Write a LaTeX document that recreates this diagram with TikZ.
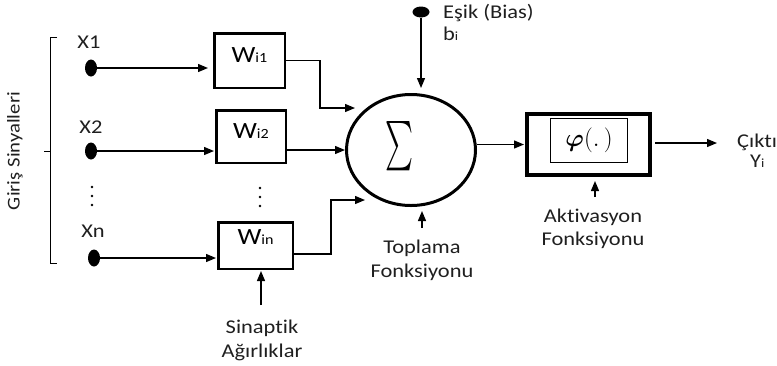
\documentclass[tikz,border=0pt]{standalone}
\usepackage{fontspec}
\setmainfont{Carlito}[FakeStretch=1.15, Ligatures={NoCommon}]
\usepackage{amsmath,bm}
\usetikzlibrary{arrows.meta,shapes.geometric}
\newcommand\wlab[1]{{\fontsize{23.3}{24}\selectfont W}{\fontsize{14}{14}\selectfont #1}}
\newcommand\sublab[2]{{\fontsize{19.5}{24}\selectfont #1}{\fontsize{12.5}{14}\selectfont #2}}
\tikzset{
  conn/.style={line width=1.3pt, -{Triangle[length=10pt,width=8pt]}},
  wbox/.style={draw, line width=2.5pt, inner sep=0pt, text height=15pt, text depth=12pt},
  lbl/.style={font=\fontsize{19.5}{24}\selectfont, inner sep=0pt, text=black!88},
  indot/.style={fill, ellipse, inner sep=0pt, minimum width=12pt, minimum height=17pt},
  vdot/.style={fill, circle, inner sep=0pt, minimum size=2.6pt},
}
\begin{document}
\begin{tikzpicture}[x=1pt,y=-1pt]
\useasboundingbox (0,0) rectangle (777,365);

% bracket and side label
\draw[line width=1pt] (57,37) -- (50,37) -- (50,263) -- (57,263);
\draw[line width=1pt] (50,151) -- (44,151);
\node[lbl, font=\fontsize{18}{20}\selectfont, rotate=90] (gs) at (15,151) {Giriş Sinyalleri};

% inputs
\node[indot] (x1) at (91,68) {};
\node[indot] (x2) at (91,151) {};
\node[indot] (xn) at (94,258) {};
\node[lbl, anchor=base] (x1l) at (89,48) {X1};
\node[lbl, anchor=base] (x2l) at (91,133) {X2};
\node[lbl, anchor=base] (xnl) at (93,237) {Xn};
\node[vdot] (xd1) at (92,187) {};
\node[vdot] (xd2) at (92,196) {};
\node[vdot] (xd3) at (92,205) {};

% weight boxes
\node[wbox, minimum width=70.5pt, minimum height=54.5pt] (w1) at (249.5,60.5) {\wlab{i1}};
\node[wbox, minimum width=69.5pt, minimum height=52.5pt] (w2) at (251,136.5) {\wlab{i2}};
\node[wbox, minimum width=74.5pt, minimum height=46.5pt, text depth=18pt] (wn) at (255.5,245.5) {\wlab{in}};
\node[vdot] (wd1) at (260,188) {};
\node[vdot] (wd2) at (260,197) {};
\node[vdot] (wd3) at (260,206) {};

\draw[conn, shorten >=5pt] (x1) -- (x1 -| w1.west);
\draw[conn, shorten >=1pt] (x2) -- (x2 -| w2.west);
\draw[conn, shorten >=1pt] (xn) -- (xn -| wn.west);

% sinaptik
\node[lbl, anchor=base] (sin1) at (262,333) {Sinaptik};
\node[lbl, anchor=base] (sin2) at (262,357) {Ağırlıklar};
\coordinate (s0) at (261,305);
\draw[conn, shorten >=1pt] (s0) -- (s0 |- wn.south);

% summation
\node[draw, ellipse, line width=3pt, minimum width=129pt, minimum height=111pt] (sum) at (411,150) {};
\node[inner sep=0pt] (sig) at (399,146) {\resizebox{28pt}{37pt}{$\sum$}};

\coordinate (c1) at (355,108);
\coordinate (c3) at (365,200);
\draw[conn] (w1.east) -- ++(34,0) |- (c1);
\draw[conn] (sum.west -| w2.east) -- (sum.west);
\draw[conn] ([yshift=-8.5pt]wn.east) -- ++(37,0) |- (c3);

% bias
\node[fill, ellipse, inner sep=0pt, minimum width=17pt, minimum height=11pt] (bias) at (421,12) {};
\node[lbl, anchor=base west] (biasl) at (443,18) {Eşik (Bias)};
\node[lbl, anchor=base west] (bl) at (443,40) {\sublab{b}{i}};
\draw[conn, shorten >=5pt] (bias) -- (bias |- sum.north);

% toplama
\node[lbl, anchor=base] (top1) at (422,253) {Toplama};
\node[lbl, anchor=base] (top2) at (422,277) {Fonksiyonu};
\coordinate (t0) at (422,228);
\draw[conn, shorten >=4pt] (t0) -- (t0 |- sum.south);

% activation
\node[draw, line width=4pt, minimum width=123pt, minimum height=61pt] (act) at (588.5,144.5) {};
\node[draw, line width=0.9pt, minimum width=77pt, minimum height=44pt, inner sep=0pt] (phi) at (589,140.5) {\fontsize{24}{26}\selectfont$\boldsymbol{\varphi}(.\,)$};
\draw[conn, shorten >=1pt] (act.west -| sum.east) -- (act.west);

\node[lbl, anchor=base] (ak1) at (593,222) {Aktivasyon};
\node[lbl, anchor=base] (ak2) at (593,245) {Fonksiyonu};
\coordinate (a0) at (595,197);
\draw[conn, shorten >=4pt] (a0) -- (a0 |- act.south);

% output
\coordinate (out) at (717,143);
\draw[conn, shorten <=3pt] (out -| act.east) -- (out);
\node[lbl, anchor=base west] (outl) at (737,147) {Çıktı};
\node[lbl, anchor=base west] (yl) at (750,167) {\sublab{Y}{i}};
\end{tikzpicture}
\end{document}
